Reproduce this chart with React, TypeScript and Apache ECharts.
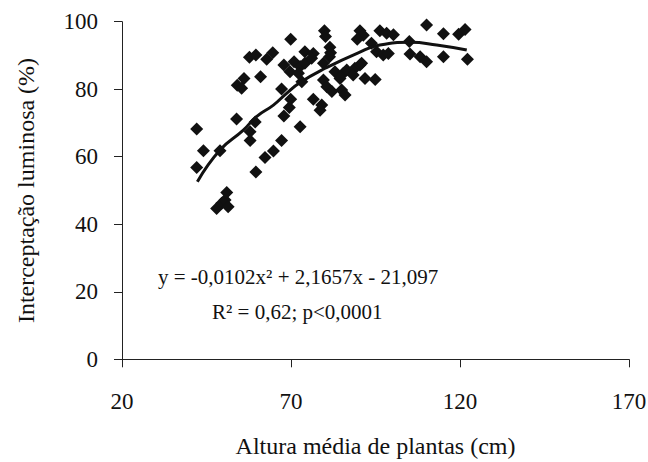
import React, { useEffect, useRef } from "react";
import * as echarts from "echarts";

const xTicks = [20, 70, 120, 170];
const yTicks = [0, 20, 40, 60, 80, 100];

const heightX = [
  42.1, 42.1, 44.1, 48.0, 49.5, 50.5, 51.0, 51.4, 49.0, 53.9,
  54.1, 55.4, 56.1, 57.7, 59.6, 61.0, 62.8, 64.6, 57.9, 57.9,
  59.4, 59.6, 62.3, 64.8, 67.2, 67.9, 69.5, 69.9, 67.2, 69.7,
  67.9, 70.9, 69.9, 72.7, 72.7, 74.1, 72.2, 73.2, 74.1, 76.6,
  76.1, 79.6, 79.9, 80.2, 81.5, 81.7, 81.4, 83.0, 85.5, 86.5,
  84.5, 79.6, 80.6, 82.1, 85.0, 86.0, 76.6, 79.1, 78.6, 88.9,
  90.4, 90.9, 88.4, 91.9, 94.9, 90.4, 91.4, 89.6, 93.8, 95.3,
  97.3, 98.8, 96.3, 98.3, 100.3, 105.0, 105.2, 108.2, 110.1, 110.1,
  115.1, 115.1, 119.6, 121.5, 122.2,
];
const interceptY = [
  68.2, 56.8, 61.8, 44.7, 46.2, 47.2, 49.4, 45.2, 61.8, 71.2,
  81.2, 80.3, 83.2, 89.5, 90.1, 83.7, 88.9, 90.8, 64.8, 67.4,
  70.3, 55.5, 59.8, 61.7, 64.8, 72.1, 74.6, 77.0, 80.1, 85.2,
  87.2, 88.1, 94.8, 68.9, 86.7, 87.7, 84.7, 82.2, 91.1, 90.6,
  89.2, 87.7, 97.3, 95.6, 92.4, 90.8, 89.6, 85.2, 84.7, 85.7,
  83.2, 82.7, 80.7, 79.3, 79.8, 78.3, 77.0, 75.3, 73.8, 86.2,
  87.2, 87.7, 84.2, 83.2, 82.9, 97.3, 96.0, 94.8, 93.6, 91.1,
  90.1, 90.6, 97.3, 96.6, 96.1, 94.1, 90.4, 89.6, 88.1, 99.0,
  96.4, 89.6, 96.3, 97.7, 88.9,
];

// fitted curve
const curveX = [42.3, 49.0, 55.9, 59.8, 64.8, 68.7, 72.7, 80.1, 89.9, 96.3, 105.2, 113.1, 122.0];
const curveY = [52.6, 62.0, 67.9, 71.9, 75.3, 78.8, 82.0, 86.2, 90.8, 93.1, 93.9, 93.1, 91.6];

const xName = "Altura média de plantas (cm)";
const yName = "Interceptação luminosa (%)";
const equationText = "y = -0,0102x² + 2,1657x - 21,097";
const r2Text = "R² = 0,62; p<0,0001";

const FONT = "Liberation Serif";
const INK = "#111";

export default function App() {
  const ref = useRef<HTMLDivElement>(null);
  useEffect(() => {
    document.body.style.margin = "0";
    if (!ref.current) return;
    const chart = echarts.init(ref.current, null, { renderer: "svg" });
    chart.setOption({
      animation: false,
      backgroundColor: "#fff",
      grid: { left: 122, right: 19, top: 21.7, bottom: 102.7 },
      xAxis: {
        type: "value",
        min: xTicks[0],
        max: xTicks[xTicks.length - 1],
        interval: 50,
        axisLine: { show: true, onZero: false, lineStyle: { color: "#222", width: 1 } },
        axisTick: { show: true, inside: false, length: 8, lineStyle: { color: "#222" } },
        axisLabel: { show: false },
        splitLine: { show: false },
      },
      yAxis: {
        type: "value",
        min: yTicks[0],
        max: yTicks[yTicks.length - 1],
        interval: 20,
        axisLine: { show: true, onZero: false, lineStyle: { color: "#222", width: 1 } },
        axisTick: { show: true, inside: false, length: 8, lineStyle: { color: "#222" } },
        axisLabel: { show: false },
        splitLine: { show: false },
      },
      series: [
        {
          type: "scatter",
          data: heightX.map((x, i) => [x, interceptY[i]]),
          symbol: "diamond",
          symbolSize: 13,
          itemStyle: { color: INK, opacity: 1 },
          z: 2,
        },
        {
          type: "line",
          data: curveX.map((x, i) => [x, curveY[i]]),
          smooth: true,
          showSymbol: false,
          symbol: "none",
          lineStyle: { color: INK, width: 3 },
          z: 3,
        },
      ],
    });

    // axis tick labels and titles, placed through the chart's own scales
    const px = (v: number[]) => chart.convertToPixel({ gridIndex: 0 }, v) as number[];
    const xMin = xTicks[0];
    const xMax = xTicks[xTicks.length - 1];
    const yMin = yTicks[0];
    const yMax = yTicks[yTicks.length - 1];
    const texts: any[] = [];
    yTicks.forEach((v) => {
      const [x, y] = px([xMin, v]);
      texts.push({
        type: "text",
        x: x - 24,
        y,
        style: { text: String(v), fontFamily: FONT, fontSize: 23, fill: INK, align: "right", verticalAlign: "middle" },
      });
    });
    xTicks.forEach((v) => {
      const [x, y] = px([v, yMin]);
      texts.push({
        type: "text",
        x,
        y: y + 42,
        style: { text: String(v), fontFamily: FONT, fontSize: 23, fill: INK, align: "center", verticalAlign: "middle" },
      });
    });
    const [xc, yb] = px([(xMin + xMax) / 2, yMin]);
    texts.push({
      type: "text",
      x: xc,
      y: yb + 87,
      style: { text: xName, fontFamily: FONT, fontSize: 24, fill: INK, align: "center", verticalAlign: "middle" },
    });
    const [xl, ym] = px([xMin, (yMin + yMax) / 2]);
    texts.push({
      type: "text",
      x: xl - 96,
      y: ym,
      rotation: Math.PI / 2,
      style: { text: yName, fontFamily: FONT, fontSize: 24, fill: INK, align: "center", verticalAlign: "middle" },
    });
    texts.push({
      type: "text",
      left: 158,
      top: 266,
      style: { text: equationText, fontFamily: FONT, fontSize: 21, fill: INK },
    });
    texts.push({
      type: "text",
      left: 212,
      top: 301,
      style: { text: r2Text, fontFamily: FONT, fontSize: 21, fill: INK },
    });
    chart.setOption({ graphic: texts });
    return () => chart.dispose();
  }, []);
  return <div ref={ref} style={{ width: 648, height: 462 }} />;
}
